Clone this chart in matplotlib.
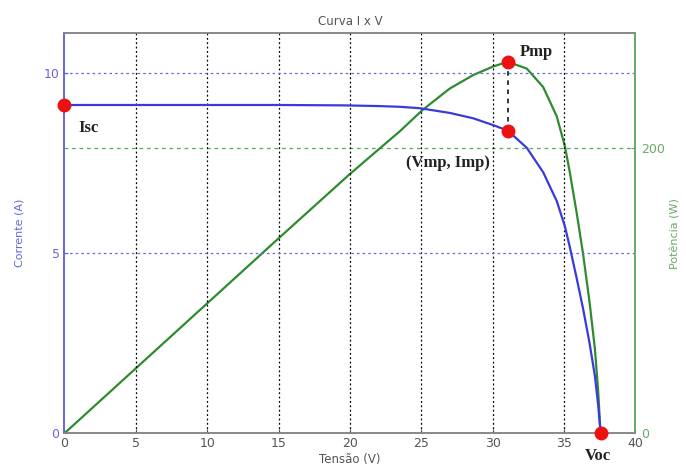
import matplotlib
matplotlib.use("Agg")
import matplotlib.pyplot as plt

# Data
voltage_i = [0, 5, 10, 15, 19.5, 22, 23.5, 24.9, 27.0, 28.65, 30.05, 31.06, 32.4, 33.55,
             34.5, 35.07, 35.4, 35.9, 36.35, 36.8, 37.17, 37.4, 37.57]
current = [9.12, 9.12, 9.12, 9.12, 9.11, 9.09, 9.07, 9.03, 8.9, 8.75, 8.56, 8.41, 7.93, 7.25,
           6.45, 5.75, 5.2, 4.3, 3.45, 2.5, 1.6, 0.8, 0.0]

voltage_p = [0, 5, 10, 15, 20, 23.5, 25.1, 27.0, 28.65, 30.05, 31.06, 32.4, 33.55, 34.5,
             35.07, 35.4, 35.9, 36.35, 36.8, 37.17, 37.4, 37.57]
power = [0, 45.6, 91.2, 136.8, 182, 212, 227, 242, 251.5, 257.5, 260.8, 256, 243, 222.5,
         201.5, 184, 154.5, 125.5, 92, 59.5, 30, 0]

isc = 9.12
vmp, imp, pmp = 31.06, 8.41, 260.8
voc = 37.57

x_ticks = [0, 5, 10, 15, 20, 25, 30, 35, 40]
i_ticks = [0, 5, 10]
p_ticks = [0, 200]

blue = "#3a3adc"
green = "#2e8b2e"
blue_txt = "#6666dd"
green_txt = "#66aa66"
gray = "#555555"

I_MAX = 11.12
P_MAX = 281

fig = plt.figure(figsize=(6.86, 4.66), dpi=100)
ax = fig.add_axes([0.094, 0.0702, 0.832, 0.859])
ax2 = ax.twinx()

ax.set_xlim(0, 40)
ax.set_ylim(0, I_MAX)
ax2.set_ylim(0, P_MAX)

# grids
for xv in x_ticks[1:-1]:
    ax.axvline(xv, color="black", linestyle=(0, (1.5, 2)), linewidth=0.9, zorder=1)
for yv in i_ticks[1:]:
    ax.axhline(yv, color=blue_txt, linestyle=(0, (2, 2.5)), linewidth=0.9, zorder=1)
for yv in p_ticks[1:]:
    ax2.axhline(yv, color="#55aa55", linestyle=(0, (3, 3)), linewidth=0.9, zorder=1)

ax.plot(voltage_i, current, color=blue, linewidth=1.6, zorder=3)
ax2.plot(voltage_p, power, color=green, linewidth=1.6, zorder=3)

# vertical dashed link Pmp -> (Vmp, Imp)
ax2.plot([vmp, vmp], [pmp, imp * P_MAX / I_MAX], color="black", linestyle=(0, (3, 3)),
         linewidth=1.1, zorder=4)

# red markers
ax.plot([0, vmp, voc], [isc, imp, 0], "o", color="#ee1111", markersize=9, zorder=6, clip_on=False)
ax2.plot([vmp], [pmp], "o", color="#ee1111", markersize=9, zorder=6, clip_on=False)

ax.set_xticks(x_ticks)
ax.set_yticks(i_ticks)
ax2.set_yticks(p_ticks)
ax.tick_params(axis="x", colors=gray, labelsize=9, direction="in", length=3, pad=3)
ax.tick_params(axis="y", colors=blue_txt, labelsize=9, direction="in", length=3)
ax2.tick_params(axis="y", colors=green_txt, labelsize=9, direction="in", length=3, pad=4)

for a in (ax, ax2):
    a.spines["top"].set_color("#888888")
    a.spines["bottom"].set_color("#888888")
    a.spines["left"].set_color(blue_txt)
    a.spines["right"].set_color(green_txt)
    for s in a.spines.values():
        s.set_linewidth(1.2)

ax.set_title("Curva I x V", fontsize=8.5, color=gray, pad=6)
ax.set_xlabel("Tensão (V)", fontsize=8.5, color=gray, labelpad=2)
ax.set_ylabel("Corrente (A)", fontsize=8, color=blue_txt, labelpad=14)
ax2.set_ylabel("Potência (W)", fontsize=8, color=green_txt, rotation=90, labelpad=4)

serif = dict(family="Liberation Serif", fontweight="bold", fontsize=12, color="#222222")
ax.text(0.95, 8.48, "Isc", va="center", ha="left", **serif)
ax.text(31.9, 10.59, "Pmp", va="center", ha="left", **serif)
ax.text(23.9, 7.51, "(Vmp, Imp)", va="center", ha="left", **serif)
ax.text(36.5, -0.62, "Voc", va="center", ha="left", clip_on=False, **serif)

ax.set_zorder(ax2.get_zorder() + 1)
ax.patch.set_visible(False)

fig.savefig("out.png", dpi=100)
